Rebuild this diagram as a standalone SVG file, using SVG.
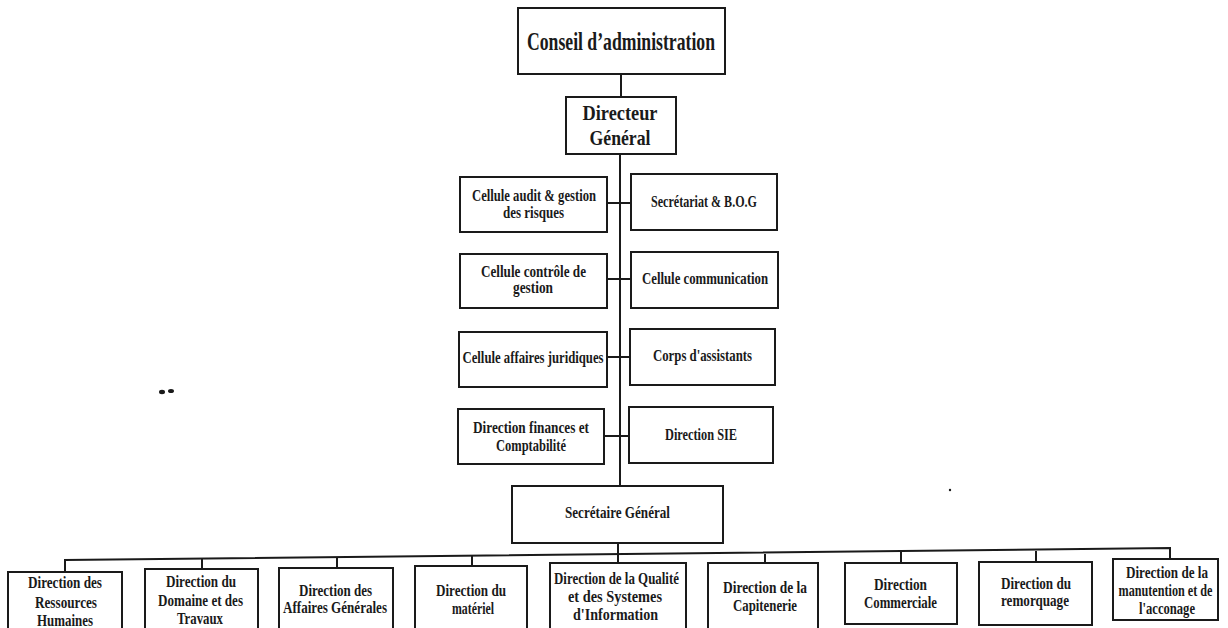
<svg xmlns="http://www.w3.org/2000/svg" width="1228" height="628" viewBox="0 0 1228 628">
<style>
.b{fill:#fff;stroke:#1a1a1a;stroke-width:2}
.c{stroke:#1a1a1a;stroke-width:2;fill:none}
text{font-family:"Liberation Serif","DejaVu Serif",serif;font-weight:bold;fill:#1a1a1a;text-anchor:middle}
.t{font-size:16px}
.s{font-size:16px}
</style>
<rect width="1228" height="628" fill="#fff"/>
<g id="connectors">
<line class="c" x1="621" y1="74" x2="621" y2="97"/>
<line class="c" x1="620" y1="154" x2="620" y2="486"/>
<line class="c" x1="607" y1="203" x2="631" y2="203"/>
<line class="c" x1="607" y1="279" x2="631" y2="279"/>
<line class="c" x1="607" y1="357" x2="630" y2="357"/>
<line class="c" x1="604" y1="436" x2="629" y2="436"/>
<line class="c" x1="618" y1="543" x2="618" y2="563"/>
<path class="c" d="M65 572 V560 L1170 548 V559"/>
<line class="c" x1="202" y1="559" x2="202" y2="569"/>
<line class="c" x1="337" y1="557" x2="337" y2="568"/>
<line class="c" x1="472" y1="556" x2="472" y2="566"/>
<line class="c" x1="765" y1="554" x2="765" y2="563"/>
<line class="c" x1="901" y1="552" x2="901" y2="563"/>
<line class="c" x1="1036" y1="551" x2="1036" y2="562"/>
</g>
<g id="conseil"><rect class="b" x="518" y="8" width="207" height="66"/><text x="621" y="50" font-size="26" textLength="188" lengthAdjust="spacingAndGlyphs">Conseil d’administration</text></g>
<g id="dg"><rect class="b" x="566" y="97" width="110" height="57"/><text x="620" y="120" font-size="21" textLength="75" lengthAdjust="spacingAndGlyphs">Directeur</text><text x="620" y="145" font-size="21" textLength="61" lengthAdjust="spacingAndGlyphs">Général</text></g>
<g id="audit"><rect class="b" x="460" y="177" width="147" height="55"/><text class="t" x="534" y="201" textLength="124" lengthAdjust="spacingAndGlyphs">Cellule audit &amp; gestion</text><text class="t" x="533.5" y="218" textLength="61" lengthAdjust="spacingAndGlyphs">des risques</text></g>
<g id="secretariat"><rect class="b" x="631" y="174" width="146" height="56"/><text class="t" x="704" y="207" textLength="106" lengthAdjust="spacingAndGlyphs">Secrétariat &amp; B.O.G</text></g>
<g id="controle"><rect class="b" x="460" y="254" width="147" height="54"/><text class="t" x="533.5" y="277" textLength="105" lengthAdjust="spacingAndGlyphs">Cellule contrôle de</text><text class="t" x="533" y="293" textLength="40" lengthAdjust="spacingAndGlyphs">gestion</text></g>
<g id="communication"><rect class="b" x="631" y="252" width="147" height="56"/><text class="t" x="705" y="284" textLength="126" lengthAdjust="spacingAndGlyphs">Cellule communication</text></g>
<g id="juridiques"><rect class="b" x="459" y="332" width="148" height="55"/><text class="t" x="533" y="363" textLength="141" lengthAdjust="spacingAndGlyphs">Cellule affaires juridiques</text></g>
<g id="assistants"><rect class="b" x="630" y="329" width="145" height="56"/><text class="t" x="702.5" y="361" textLength="99" lengthAdjust="spacingAndGlyphs">Corps d'assistants</text></g>
<g id="finances"><rect class="b" x="458" y="409" width="146" height="55"/><text class="t" x="531" y="433" textLength="116" lengthAdjust="spacingAndGlyphs">Direction finances et</text><text class="t" x="531" y="451" textLength="70" lengthAdjust="spacingAndGlyphs">Comptabilité</text></g>
<g id="sie"><rect class="b" x="629" y="407" width="144" height="56"/><text class="t" x="701" y="440" textLength="72" lengthAdjust="spacingAndGlyphs">Direction SIE</text></g>
<g id="sg"><rect class="b" x="512" y="486" width="211" height="57"/><text class="t" x="617.5" y="518" textLength="105" lengthAdjust="spacingAndGlyphs">Secrétaire Général</text></g>
<g id="drh"><rect class="b" x="8" y="572" width="114" height="70"/><text class="s" x="65" y="588" textLength="74" lengthAdjust="spacingAndGlyphs">Direction des</text><text class="s" x="66" y="608" textLength="62" lengthAdjust="spacingAndGlyphs">Ressources</text><text class="s" x="65" y="626" textLength="56" lengthAdjust="spacingAndGlyphs">Humaines</text></g>
<g id="ddt"><rect class="b" x="145" y="569" width="113" height="70"/><text class="s" x="201" y="587" textLength="70" lengthAdjust="spacingAndGlyphs">Direction du</text><text class="s" x="200.5" y="606" textLength="85" lengthAdjust="spacingAndGlyphs">Domaine et des</text><text class="s" x="200" y="624" textLength="46" lengthAdjust="spacingAndGlyphs">Travaux</text></g>
<g id="dag"><rect class="b" x="279" y="568" width="114" height="70"/><text class="s" x="335.5" y="596" textLength="73" lengthAdjust="spacingAndGlyphs">Direction des</text><text class="s" x="335" y="613" textLength="104" lengthAdjust="spacingAndGlyphs">Affaires Générales</text></g>
<g id="dm"><rect class="b" x="415" y="566" width="112" height="70"/><text class="s" x="471" y="596" textLength="70" lengthAdjust="spacingAndGlyphs">Direction du</text><text class="s" x="473" y="614" textLength="42" lengthAdjust="spacingAndGlyphs">matériel</text></g>
<g id="dqsi"><rect class="b" x="550" y="563" width="136" height="70"/><text class="s" x="616.5" y="584" textLength="125" lengthAdjust="spacingAndGlyphs">Direction de la Qualité</text><text class="s" x="615" y="602" textLength="94" lengthAdjust="spacingAndGlyphs">et des Systemes</text><text class="s" x="615.5" y="620" textLength="85" lengthAdjust="spacingAndGlyphs">d'Information</text></g>
<g id="dc"><rect class="b" x="708" y="563" width="110" height="70"/><text class="s" x="765" y="593" textLength="84" lengthAdjust="spacingAndGlyphs">Direction de la</text><text class="s" x="765" y="611" textLength="64" lengthAdjust="spacingAndGlyphs">Capitenerie</text></g>
<g id="dcom"><rect class="b" x="845" y="563" width="112" height="61"/><text class="s" x="900.5" y="590" textLength="53" lengthAdjust="spacingAndGlyphs">Direction</text><text class="s" x="900.5" y="608" textLength="73" lengthAdjust="spacingAndGlyphs">Commerciale</text></g>
<g id="drem"><rect class="b" x="979" y="562" width="113" height="63"/><text class="s" x="1036" y="589" textLength="70" lengthAdjust="spacingAndGlyphs">Direction du</text><text class="s" x="1035" y="606" textLength="68" lengthAdjust="spacingAndGlyphs">remorquage</text></g>
<g id="dma"><rect class="b" x="1113" y="559" width="105" height="61"/><text class="s" x="1167" y="578" textLength="82" lengthAdjust="spacingAndGlyphs">Direction de la</text><text class="s" x="1165.5" y="596" textLength="94" lengthAdjust="spacingAndGlyphs">manutention et de</text><text class="s" x="1167" y="614" textLength="56" lengthAdjust="spacingAndGlyphs">l'acconage</text></g>
<g id="marks" fill="#1a1a1a"><ellipse cx="162" cy="392" rx="3" ry="2.2"/><ellipse cx="171" cy="391" rx="3" ry="2"/><circle cx="950" cy="490" r="1.2"/></g>
</svg>
